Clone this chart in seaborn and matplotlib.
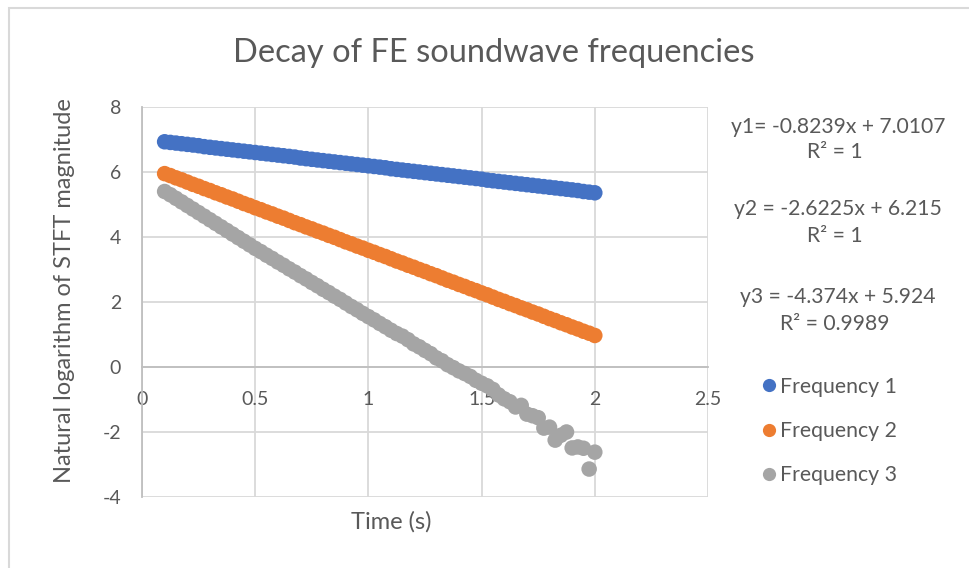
import matplotlib
matplotlib.use("Agg")
import matplotlib.pyplot as plt
import pandas as pd
import seaborn as sns
from matplotlib.patches import Rectangle

# Sample times (s)
time_s = [
    0.100, 0.125, 0.150, 0.175, 0.200, 0.225, 0.250, 0.275, 0.300, 0.325,
    0.350, 0.375, 0.400, 0.425, 0.450, 0.475, 0.500, 0.525, 0.550, 0.575,
    0.600, 0.625, 0.650, 0.675, 0.700, 0.725, 0.750, 0.775, 0.800, 0.825,
    0.850, 0.875, 0.900, 0.925, 0.950, 0.975, 1.000, 1.025, 1.050, 1.075,
    1.100, 1.125, 1.150, 1.175, 1.200, 1.225, 1.250, 1.275, 1.300, 1.325,
    1.350, 1.375, 1.400, 1.425, 1.450, 1.475, 1.500, 1.525, 1.550, 1.575,
    1.600, 1.625, 1.650, 1.675, 1.700, 1.725, 1.750, 1.775, 1.800, 1.825,
    1.850, 1.875, 1.900, 1.925, 1.950, 1.975, 2.000,
]

# ln|STFT| of each tracked frequency
freq1 = [
    6.93, 6.91, 6.89, 6.87, 6.85, 6.83, 6.81, 6.78, 6.76, 6.74,
    6.72, 6.70, 6.68, 6.66, 6.64, 6.62, 6.60, 6.58, 6.56, 6.54,
    6.52, 6.50, 6.48, 6.46, 6.43, 6.41, 6.39, 6.37, 6.35, 6.33,
    6.31, 6.29, 6.27, 6.25, 6.23, 6.21, 6.19, 6.17, 6.15, 6.13,
    6.10, 6.08, 6.06, 6.04, 6.02, 6.00, 5.98, 5.96, 5.94, 5.92,
    5.90, 5.88, 5.86, 5.84, 5.82, 5.80, 5.78, 5.75, 5.73, 5.71,
    5.69, 5.67, 5.65, 5.63, 5.61, 5.59, 5.57, 5.55, 5.53, 5.51,
    5.49, 5.47, 5.45, 5.43, 5.40, 5.38, 5.36,
]
freq2 = [
    5.95, 5.89, 5.82, 5.76, 5.69, 5.62, 5.56, 5.49, 5.43, 5.36,
    5.30, 5.23, 5.17, 5.10, 5.03, 4.97, 4.90, 4.84, 4.77, 4.71,
    4.64, 4.58, 4.51, 4.44, 4.38, 4.31, 4.25, 4.18, 4.12, 4.05,
    3.99, 3.92, 3.85, 3.79, 3.72, 3.66, 3.59, 3.53, 3.46, 3.40,
    3.33, 3.26, 3.20, 3.13, 3.07, 3.00, 2.94, 2.87, 2.81, 2.74,
    2.67, 2.61, 2.54, 2.48, 2.41, 2.35, 2.28, 2.22, 2.15, 2.08,
    2.02, 1.95, 1.89, 1.82, 1.76, 1.69, 1.63, 1.56, 1.49, 1.43,
    1.36, 1.30, 1.23, 1.17, 1.10, 1.04, 0.97,
]
freq3 = [
    5.40, 5.30, 5.19, 5.08, 4.97, 4.86, 4.75, 4.64, 4.53, 4.42,
    4.31, 4.20, 4.09, 3.98, 3.87, 3.76, 3.65, 3.55, 3.44, 3.34,
    3.23, 3.13, 3.02, 2.92, 2.81, 2.71, 2.60, 2.50, 2.39, 2.29,
    2.18, 2.08, 1.97, 1.86, 1.76, 1.65, 1.55, 1.45, 1.34, 1.24,
    1.13, 1.03, 0.95, 0.84, 0.71, 0.62, 0.51, 0.41, 0.28, 0.19,
    0.07, -0.02, -0.12, -0.20, -0.29, -0.41, -0.50, -0.58, -0.69, -0.86,
    -0.98, -1.07, -1.23, -1.18, -1.45, -1.50, -1.56, -1.88, -1.85, -2.25,
    -2.10, -2.00, -2.49, -2.46, -2.50, -3.14, -2.62,
]

series_names = ["Frequency 1", "Frequency 2", "Frequency 3"]
series_colors = ["#4472C4", "#ED7D31", "#A5A5A5"]

x_ticks = [0, 0.5, 1, 1.5, 2, 2.5]
x_tick_labels = ["0", "0.5", "1", "1.5", "2", "2.5"]
y_ticks = [-4, -2, 0, 2, 4, 6, 8]

trend_labels = [
    ("y1= -0.8239x + 7.0107", "R² = 1"),
    ("y2 = -2.6225x + 6.215", "R² = 1"),
    ("y3 = -4.374x + 5.924", "R² = 0.9989"),
]

sns.set_theme(style="white")
plt.rcParams["font.family"] = ["Lato", "DejaVu Sans"]
plt.rcParams["axes.unicode_minus"] = False
TEXT = "#595959"
GRID = "#d9d9d9"

df = pd.DataFrame({
    "Time (s)": time_s * 3,
    "lnmag": freq1 + freq2 + freq3,
    "series": [name for name in series_names for _ in time_s],
})

W, H = 969, 568
fig = plt.figure(figsize=(W / 100, H / 100), dpi=100)
fig.patch.set_facecolor("white")

# chart frame
fig.add_artist(Rectangle((9 / W, -0.05), 1.2, 1 - 8 / H + 0.05,
                         transform=fig.transFigure, fill=False,
                         edgecolor=GRID, linewidth=1.5))

ax = fig.add_axes([142 / W, 71 / H, 566 / W, 390 / H])
sns.scatterplot(data=df, x="Time (s)", y="lnmag", hue="series",
                palette=dict(zip(series_names, series_colors)),
                s=125, linewidth=0, alpha=1, ax=ax)

ax.set_xlim(0, 2.5)
ax.set_ylim(-4, 8)
ax.set_xticks(x_ticks)
ax.set_xticklabels(x_tick_labels)
ax.set_yticks(y_ticks)
ax.grid(True, color=GRID, linewidth=1.3)
ax.set_axisbelow(True)

for side in ["top", "right"]:
    ax.spines[side].set_visible(False)
ax.spines["bottom"].set_position(("data", 0))
for side in ["bottom", "left"]:
    ax.spines[side].set_color("#bfbfbf")
    ax.spines[side].set_linewidth(1.3)
    ax.spines[side].set_zorder(0.6)

ax.tick_params(length=0, labelsize=14, colors=TEXT)
ax.tick_params(axis="x", pad=17)
ax.tick_params(axis="y", pad=15)

ax.set_xlabel("Time (s)", fontsize=17, color=TEXT)
ax.set_ylabel("Natural logarithm of STFT magnitude", fontsize=17, color=TEXT)
ax.xaxis.set_label_coords(0.44, -0.035)
ax.yaxis.set_label_coords(-0.118, 0.53)

fig.text(494 / W, 1 - 53 / H, "Decay of FE soundwave frequencies",
         fontsize=23.5, color=TEXT, ha="center", va="center")

eq_rows = [(127, 152), (209, 236), (297, 324)]
for (eq, r2), (y_eq, y_r2) in zip(trend_labels, eq_rows):
    fig.text(838 / W, 1 - y_eq / H, eq, fontsize=15.2, color=TEXT,
             ha="center", va="center")
    fig.text(835 / W, 1 - y_r2 / H, r2, fontsize=15.2, color=TEXT,
             ha="center", va="center")

sns.move_legend(ax, "center left", bbox_to_anchor=(754 / W, 1 - 431 / H),
                bbox_transform=fig.transFigure, frameon=False, title=None,
                fontsize=15.3, labelspacing=1.15, handletextpad=-0.2,
                handlelength=1.4, borderpad=0, borderaxespad=0,
                markerscale=0.85, labelcolor=TEXT)

fig.savefig("out.png", dpi=100)
